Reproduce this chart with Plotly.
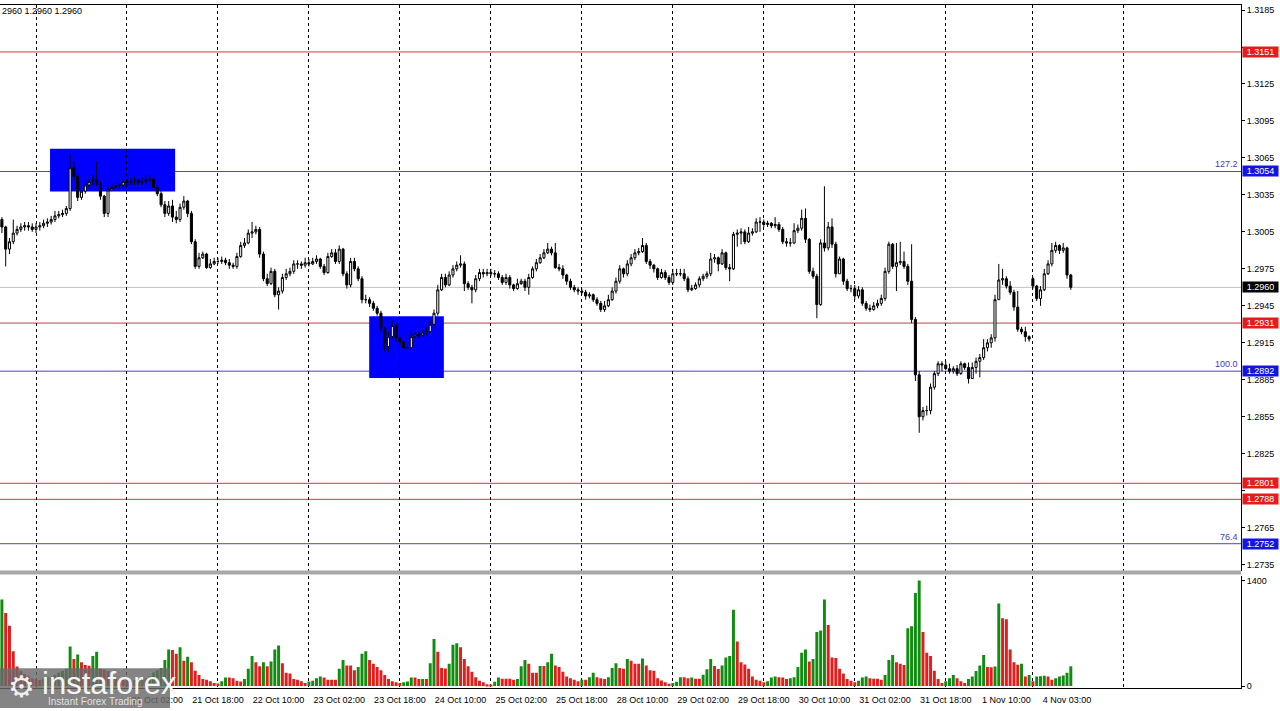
import plotly.graph_objects as go

# ---------------- data (H1 bars, first bar = 17 Oct 15:00) ----------------
opens = [
 1.3015, 1.3009, 1.2991, 1.2997, 1.3004, 1.3007, 1.3009, 1.3010, 1.3009, 1.3007,
 1.3009, 1.3010, 1.3012, 1.3013, 1.3015, 1.3018, 1.3019, 1.3020, 1.3024, 1.3057,
 1.3050, 1.3033, 1.3038, 1.3043, 1.3046, 1.3047, 1.3044, 1.3034, 1.3020, 1.3039,
 1.3041, 1.3042, 1.3043, 1.3046, 1.3045, 1.3046, 1.3047, 1.3045, 1.3046, 1.3047,
 1.3048, 1.3041, 1.3036, 1.3027, 1.3020, 1.3026, 1.3017, 1.3015, 1.3025, 1.3030,
 1.3020, 1.2997, 1.2977, 1.2984, 1.2987, 1.2976, 1.2979, 1.2981, 1.2981, 1.2982,
 1.2980, 1.2978, 1.2977, 1.2985, 1.2994, 1.2996, 1.3004, 1.3005, 1.3007, 1.2987,
 1.2967, 1.2963, 1.2973, 1.2954, 1.2957, 1.2968, 1.2971, 1.2973, 1.2979, 1.2979,
 1.2978, 1.2980, 1.2979, 1.2981, 1.2983, 1.2977, 1.2972, 1.2985, 1.2988, 1.2981,
 1.2991, 1.2971, 1.2962, 1.2981, 1.2975, 1.2967, 1.2950, 1.2950, 1.2947, 1.2943,
 1.2939, 1.2927, 1.2912, 1.2920, 1.2929, 1.2919, 1.2916, 1.2911, 1.2911, 1.2920,
 1.2922, 1.2921, 1.2923, 1.2924, 1.2930, 1.2939, 1.2958, 1.2968, 1.2962, 1.2970,
 1.2975, 1.2978, 1.2979, 1.2963, 1.2960, 1.2958, 1.2967, 1.2972, 1.2971, 1.2972,
 1.2971, 1.2971, 1.2968, 1.2964, 1.2968, 1.2962, 1.2959, 1.2963, 1.2965, 1.2960,
 1.2968, 1.2975, 1.2980, 1.2984, 1.2988, 1.2991, 1.2988, 1.2976, 1.2975, 1.2970,
 1.2965, 1.2960, 1.2958, 1.2957, 1.2956, 1.2953, 1.2954, 1.2950, 1.2947, 1.2942,
 1.2945, 1.2950, 1.2957, 1.2965, 1.2975, 1.2971, 1.2979, 1.2984, 1.2988, 1.2989,
 1.2994, 1.2981, 1.2978, 1.2975, 1.2968, 1.2972, 1.2968, 1.2964, 1.2971, 1.2971,
 1.2971, 1.2967, 1.2958, 1.2959, 1.2962, 1.2967, 1.2969, 1.2971, 1.2983, 1.2984,
 1.2979, 1.2988, 1.2976, 1.2975, 1.3003, 1.3004, 1.3005, 1.2997, 1.3004, 1.3005,
 1.3013, 1.3013, 1.3011, 1.3012, 1.3010, 1.3011, 1.3007, 1.2997, 1.2996, 1.2996,
 1.3006, 1.3008, 1.3016, 1.2999, 1.2973, 1.2969, 1.2946, 1.2996, 1.2992, 1.3009,
 1.2995, 1.2971, 1.2983, 1.2965, 1.2959, 1.2959, 1.2953, 1.2958, 1.2947, 1.2943,
 1.2942, 1.2945, 1.2947, 1.2951, 1.2973, 1.2995, 1.2977, 1.2980, 1.2981, 1.2977,
 1.2965, 1.2934, 1.2889, 1.2855, 1.2860, 1.2860, 1.2879, 1.2890, 1.2898, 1.2897,
 1.2894, 1.2892, 1.2894, 1.2890, 1.2898, 1.2895, 1.2886, 1.2895, 1.2900, 1.2903,
 1.2911, 1.2915, 1.2919, 1.2950, 1.2966, 1.2967, 1.2961, 1.2956, 1.2944, 1.2926,
 1.2924, 1.2920, 1.2967, 1.2961, 1.2951, 1.2958, 1.2971, 1.2979, 1.2990, 1.2994,
 1.2990, 1.2992, 1.2970]

highs = [
 1.3017, 1.3010, 1.3000, 1.3015, 1.3010, 1.3012, 1.3013, 1.3013, 1.3012, 1.3012,
 1.3013, 1.3015, 1.3016, 1.3018, 1.3022, 1.3022, 1.3023, 1.3026, 1.3068, 1.3062,
 1.3052, 1.3042, 1.3047, 1.3049, 1.3051, 1.3062, 1.3046, 1.3035, 1.3042, 1.3044,
 1.3045, 1.3046, 1.3049, 1.3048, 1.3049, 1.3050, 1.3048, 1.3049, 1.3051, 1.3051,
 1.3049, 1.3043, 1.3038, 1.3030, 1.3030, 1.3031, 1.3022, 1.3028, 1.3034, 1.3031,
 1.3022, 1.2999, 1.2988, 1.2989, 1.2988, 1.2983, 1.2984, 1.2984, 1.2985, 1.2984,
 1.2983, 1.2980, 1.2988, 1.2997, 1.3000, 1.3007, 1.3013, 1.3010, 1.3009, 1.2989,
 1.2971, 1.2976, 1.2975, 1.2960, 1.2971, 1.2975, 1.2976, 1.2982, 1.2982, 1.2981,
 1.2984, 1.2983, 1.2984, 1.2986, 1.2984, 1.2979, 1.2988, 1.2991, 1.2991, 1.2994,
 1.2992, 1.2973, 1.2984, 1.2984, 1.2977, 1.2969, 1.2954, 1.2952, 1.2949, 1.2945,
 1.2941, 1.2928, 1.2924, 1.2933, 1.2931, 1.2920, 1.2917, 1.2914, 1.2924, 1.2924,
 1.2924, 1.2925, 1.2928, 1.2933, 1.2942, 1.2962, 1.2971, 1.2971, 1.2973, 1.2978,
 1.2981, 1.2986, 1.2981, 1.2965, 1.2962, 1.2970, 1.2975, 1.2975, 1.2975, 1.2975,
 1.2974, 1.2973, 1.2970, 1.2971, 1.2970, 1.2963, 1.2967, 1.2967, 1.2967, 1.2971,
 1.2977, 1.2983, 1.2987, 1.2991, 1.2996, 1.2993, 1.2996, 1.2979, 1.2978, 1.2971,
 1.2967, 1.2962, 1.2960, 1.2959, 1.2958, 1.2956, 1.2955, 1.2952, 1.2949, 1.2949,
 1.2954, 1.2960, 1.2968, 1.2978, 1.2976, 1.2982, 1.2987, 1.2991, 1.2992, 1.3000,
 1.2996, 1.2983, 1.2979, 1.2976, 1.2975, 1.2974, 1.2970, 1.2975, 1.2975, 1.2975,
 1.2975, 1.2969, 1.2962, 1.2964, 1.2969, 1.2971, 1.2973, 1.2988, 1.2987, 1.2985,
 1.2991, 1.2989, 1.2979, 1.3005, 1.3007, 1.3008, 1.3007, 1.3009, 1.3008, 1.3016,
 1.3017, 1.3015, 1.3014, 1.3013, 1.3017, 1.3013, 1.3009, 1.3000, 1.3000, 1.3012,
 1.3011, 1.3023, 1.3024, 1.3000, 1.2976, 1.2971, 1.2999, 1.3042, 1.3013, 1.3016,
 1.2997, 1.2985, 1.2984, 1.2967, 1.2962, 1.2962, 1.2961, 1.2960, 1.2949, 1.2946,
 1.2948, 1.2950, 1.2954, 1.2976, 1.2997, 1.2996, 1.2996, 1.2997, 1.2989, 1.2979,
 1.2995, 1.2936, 1.2892, 1.2863, 1.2864, 1.2882, 1.2892, 1.2900, 1.2900, 1.2900,
 1.2898, 1.2896, 1.2897, 1.2900, 1.2899, 1.2899, 1.2899, 1.2903, 1.2906, 1.2918,
 1.2918, 1.2922, 1.2954, 1.2979, 1.2975, 1.2969, 1.2965, 1.2958, 1.2957, 1.2928,
 1.2928, 1.2921, 1.2968, 1.2962, 1.2961, 1.2975, 1.2982, 1.2996, 1.2997, 1.2995,
 1.2996, 1.2993, 1.2971]

lows = [
 1.3004, 1.2977, 1.2987, 1.2995, 1.3002, 1.3005, 1.3006, 1.3006, 1.3005, 1.3004,
 1.3006, 1.3008, 1.3009, 1.3011, 1.3013, 1.3016, 1.3017, 1.3018, 1.3022, 1.3047,
 1.3030, 1.3031, 1.3036, 1.3041, 1.3043, 1.3042, 1.3031, 1.3017, 1.3017, 1.3038,
 1.3039, 1.3039, 1.3041, 1.3043, 1.3043, 1.3043, 1.3043, 1.3043, 1.3044, 1.3045,
 1.3039, 1.3034, 1.3025, 1.3017, 1.3018, 1.3013, 1.3012, 1.3013, 1.3023, 1.3017,
 1.2995, 1.2975, 1.2975, 1.2983, 1.2975, 1.2975, 1.2978, 1.2979, 1.2979, 1.2978,
 1.2975, 1.2975, 1.2975, 1.2984, 1.2992, 1.2995, 1.3000, 1.3003, 1.2984, 1.2965,
 1.2961, 1.2962, 1.2952, 1.2942, 1.2955, 1.2966, 1.2969, 1.2971, 1.2975, 1.2975,
 1.2976, 1.2977, 1.2978, 1.2979, 1.2975, 1.2970, 1.2971, 1.2984, 1.2979, 1.2979,
 1.2969, 1.2959, 1.2960, 1.2973, 1.2965, 1.2947, 1.2947, 1.2944, 1.2941, 1.2937,
 1.2924, 1.2908, 1.2907, 1.2918, 1.2916, 1.2913, 1.2908, 1.2907, 1.2909, 1.2919,
 1.2919, 1.2920, 1.2921, 1.2923, 1.2928, 1.2937, 1.2957, 1.2960, 1.2961, 1.2968,
 1.2973, 1.2976, 1.2957, 1.2958, 1.2947, 1.2956, 1.2965, 1.2968, 1.2969, 1.2969,
 1.2968, 1.2966, 1.2962, 1.2962, 1.2959, 1.2957, 1.2958, 1.2962, 1.2957, 1.2954,
 1.2967, 1.2973, 1.2979, 1.2983, 1.2987, 1.2986, 1.2975, 1.2973, 1.2967, 1.2962,
 1.2958, 1.2956, 1.2954, 1.2954, 1.2950, 1.2951, 1.2948, 1.2945, 1.2940, 1.2940,
 1.2944, 1.2949, 1.2955, 1.2963, 1.2968, 1.2969, 1.2977, 1.2982, 1.2986, 1.2988,
 1.2979, 1.2975, 1.2972, 1.2966, 1.2967, 1.2966, 1.2962, 1.2962, 1.2969, 1.2969,
 1.2965, 1.2956, 1.2957, 1.2958, 1.2960, 1.2965, 1.2967, 1.2969, 1.2980, 1.2973,
 1.2978, 1.2974, 1.2965, 1.2974, 1.2993, 1.2995, 1.2995, 1.2996, 1.3002, 1.3004,
 1.3005, 1.3009, 1.3009, 1.3008, 1.3008, 1.3005, 1.2995, 1.2993, 1.2993, 1.2995,
 1.3004, 1.3006, 1.2996, 1.2971, 1.2967, 1.2935, 1.2945, 1.2989, 1.2990, 1.2992,
 1.2968, 1.2971, 1.2962, 1.2957, 1.2956, 1.2950, 1.2951, 1.2945, 1.2941, 1.2940,
 1.2941, 1.2943, 1.2945, 1.2949, 1.2971, 1.2975, 1.2957, 1.2978, 1.2975, 1.2962,
 1.2931, 1.2884, 1.2842, 1.2852, 1.2856, 1.2857, 1.2877, 1.2888, 1.2892, 1.2893,
 1.2890, 1.2890, 1.2888, 1.2889, 1.2893, 1.2882, 1.2886, 1.2890, 1.2887, 1.2901,
 1.2908, 1.2911, 1.2916, 1.2950, 1.2962, 1.2959, 1.2954, 1.2941, 1.2924, 1.2922,
 1.2916, 1.2916, 1.2959, 1.2949, 1.2945, 1.2957, 1.2970, 1.2977, 1.2988, 1.2987,
 1.2988, 1.2967, 1.2958]

closes = [
 1.3009, 1.2991, 1.2997, 1.3004, 1.3007, 1.3009, 1.3010, 1.3009, 1.3007, 1.3009,
 1.3010, 1.3012, 1.3013, 1.3015, 1.3018, 1.3019, 1.3020, 1.3024, 1.3057, 1.3050,
 1.3033, 1.3038, 1.3043, 1.3046, 1.3047, 1.3044, 1.3034, 1.3020, 1.3039, 1.3041,
 1.3042, 1.3043, 1.3046, 1.3045, 1.3046, 1.3047, 1.3045, 1.3046, 1.3047, 1.3048,
 1.3041, 1.3036, 1.3027, 1.3020, 1.3026, 1.3017, 1.3015, 1.3025, 1.3030, 1.3020,
 1.2997, 1.2977, 1.2984, 1.2987, 1.2976, 1.2979, 1.2981, 1.2981, 1.2982, 1.2980,
 1.2978, 1.2977, 1.2985, 1.2994, 1.2996, 1.3004, 1.3005, 1.3007, 1.2987, 1.2967,
 1.2963, 1.2973, 1.2954, 1.2957, 1.2968, 1.2971, 1.2973, 1.2979, 1.2979, 1.2978,
 1.2980, 1.2979, 1.2981, 1.2983, 1.2977, 1.2972, 1.2985, 1.2988, 1.2981, 1.2991,
 1.2971, 1.2962, 1.2981, 1.2975, 1.2967, 1.2950, 1.2950, 1.2947, 1.2943, 1.2939,
 1.2927, 1.2912, 1.2920, 1.2929, 1.2919, 1.2916, 1.2911, 1.2911, 1.2920, 1.2922,
 1.2921, 1.2923, 1.2924, 1.2930, 1.2939, 1.2958, 1.2968, 1.2962, 1.2970, 1.2975,
 1.2978, 1.2979, 1.2963, 1.2960, 1.2958, 1.2967, 1.2972, 1.2971, 1.2972, 1.2971,
 1.2971, 1.2968, 1.2964, 1.2968, 1.2962, 1.2959, 1.2963, 1.2965, 1.2960, 1.2968,
 1.2975, 1.2980, 1.2984, 1.2988, 1.2991, 1.2988, 1.2976, 1.2975, 1.2970, 1.2965,
 1.2960, 1.2958, 1.2957, 1.2956, 1.2953, 1.2954, 1.2950, 1.2947, 1.2942, 1.2945,
 1.2950, 1.2957, 1.2965, 1.2975, 1.2971, 1.2979, 1.2984, 1.2988, 1.2989, 1.2994,
 1.2981, 1.2978, 1.2975, 1.2968, 1.2972, 1.2968, 1.2964, 1.2971, 1.2971, 1.2971,
 1.2967, 1.2958, 1.2959, 1.2962, 1.2967, 1.2969, 1.2971, 1.2983, 1.2984, 1.2979,
 1.2988, 1.2976, 1.2975, 1.3003, 1.3004, 1.3005, 1.2997, 1.3004, 1.3005, 1.3013,
 1.3013, 1.3011, 1.3012, 1.3010, 1.3011, 1.3007, 1.2997, 1.2996, 1.2996, 1.3006,
 1.3008, 1.3016, 1.2999, 1.2973, 1.2969, 1.2946, 1.2996, 1.2992, 1.3009, 1.2995,
 1.2971, 1.2983, 1.2965, 1.2959, 1.2959, 1.2953, 1.2958, 1.2947, 1.2943, 1.2942,
 1.2945, 1.2947, 1.2951, 1.2973, 1.2995, 1.2977, 1.2980, 1.2981, 1.2977, 1.2965,
 1.2934, 1.2889, 1.2855, 1.2860, 1.2860, 1.2879, 1.2890, 1.2898, 1.2897, 1.2894,
 1.2892, 1.2894, 1.2890, 1.2898, 1.2895, 1.2886, 1.2895, 1.2900, 1.2903, 1.2911,
 1.2915, 1.2919, 1.2950, 1.2966, 1.2967, 1.2961, 1.2956, 1.2944, 1.2926, 1.2924,
 1.2920, 1.2918, 1.2961, 1.2951, 1.2958, 1.2971, 1.2979, 1.2990, 1.2994, 1.2990,
 1.2992, 1.2970, 1.2960]

volumes = [
 1148, 970, 800, 464, 260, 200, 160, 130, 100, 90,
 80, 100, 120, 110, 150, 180, 200, 230, 527, 360,
 420, 316, 280, 270, 400, 455, 230, 220, 200, 150,
 120, 90, 80, 70, 60, 80, 90, 110, 100, 130,
 180, 210, 240, 346, 485, 480, 430, 515, 338, 388,
 316, 203, 148, 93, 84, 63, 40, 34, 63, 114,
 114, 105, 72, 60, 93, 232, 400, 316, 262, 316,
 262, 325, 485, 540, 304, 177, 169, 93, 85, 63,
 42, 60, 70, 105, 127, 114, 84, 84, 84, 232,
 346, 274, 274, 211, 253, 430, 464, 346, 295, 253,
 211, 148, 93, 63, 50, 40, 50, 60, 114, 114,
 93, 95, 93, 304, 625, 456, 240, 235, 295, 549,
 570, 515, 359, 262, 190, 118, 72, 50, 25, 21,
 59, 114, 97, 97, 97, 84, 93, 262, 346, 295,
 177, 177, 266, 266, 316, 430, 274, 253, 190, 127,
 105, 84, 63, 84, 84, 118, 177, 118, 105, 93,
 118, 240, 304, 240, 232, 359, 338, 295, 295, 367,
 274, 211, 203, 106, 76, 50, 30, 40, 59, 118,
 118, 105, 114, 97, 97, 150, 224, 359, 266, 228,
 274, 380, 400, 1013, 591, 316, 287, 232, 127, 84,
 72, 50, 63, 114, 127, 118, 114, 93, 105, 118,
 253, 443, 485, 325, 359, 717, 738, 1148, 810, 380,
 372, 232, 169, 93, 70, 50, 72, 114, 127, 105,
 97, 97, 84, 148, 346, 414, 316, 295, 280, 768,
 793, 1236, 1400, 717, 443, 400, 203, 93, 42, 63,
 105, 148, 105, 63, 42, 93, 127, 200, 274, 414,
 253, 250, 260, 1097, 899, 886, 485, 316, 283, 295,
 127, 148, 63, 127, 130, 139, 127, 84, 105, 127,
 140, 177, 262]

# bar numbers of the day separators (00:00) and of the time labels
day_start_bars = [9, 33, 57, 81, 105, 129, 153, 177, 201, 225, 249, 272, 296]
label_bars = [35, 51, 67, 83, 99, 115, 131, 147, 163, 179, 195, 211,
              227, 243, 259, 275]
label_texts = ["21 Oct 02:00", "21 Oct 18:00",
               "22 Oct 10:00", "23 Oct 02:00", "23 Oct 18:00", "24 Oct 10:00",
               "25 Oct 02:00", "25 Oct 18:00", "28 Oct 10:00", "29 Oct 02:00",
               "29 Oct 18:00", "30 Oct 10:00", "31 Oct 02:00", "31 Oct 18:00",
               "1 Nov 10:00", "4 Nov 03:00"]
price_ticks = [1.2735, 1.2765, 1.2795, 1.2825, 1.2855, 1.2885, 1.2915, 1.2945,
               1.2975, 1.3005, 1.3035, 1.3065, 1.3095, 1.3125, 1.3155, 1.3185]
covered_ticks = [1.2795, 1.3155]   # hidden behind the level price boxes
red_levels = [1.3151, 1.2931, 1.2801, 1.2788]
blue_levels = [1.3054, 1.2892, 1.2752]
fib_labels = ["127.2", "100.0", "76.4"]
current_price = 1.2960
# highlighted zones: (first bar, last bar, low price, high price)
zones = [(12.7, 45.7, 1.30377, 1.30725), (96.9, 116.6, 1.28864, 1.29366)]

# ---------------- figure ----------------
W, H = 1280, 711
DY = 3  # vertical pixel offset of the whole layout
FONT = "Liberation Sans"
GREEN, RED = "#108c10", "#e41c1c"


def fx(px):
    return px / W


def fy(py):
    return 1 - (py + DY) / H


bars = list(range(len(closes)))
vol_colors = [GREEN if (i == 0 or volumes[i] > volumes[i - 1]) else RED
              for i in range(len(volumes))]

fig = go.Figure()
fig.add_trace(go.Candlestick(
    x=bars, open=opens, high=highs, low=lows, close=closes,
    increasing=dict(line=dict(color="black", width=1), fillcolor="white"),
    decreasing=dict(line=dict(color="black", width=1), fillcolor="black"),
    whiskerwidth=0, xaxis="x", yaxis="y", showlegend=False, hoverinfo="skip"))
fig.add_trace(go.Bar(
    x=bars, y=volumes, width=0.78, marker=dict(color=vol_colors, line=dict(width=0)),
    xaxis="x2", yaxis="y2", showlegend=False, hoverinfo="skip"))

XR = [-0.5, 326.9]
XDOM = [0, fx(1241)]
grid = dict(showgrid=True, gridcolor="black", gridwidth=1, griddash="3px,3px")

shapes = []
for lv in red_levels:
    shapes.append(dict(type="line", xref="x domain", yref="y", x0=0, x1=1, y0=lv, y1=lv,
                       line=dict(color="#c83c3c", width=1), layer="below"))
for lv in blue_levels:
    shapes.append(dict(type="line", xref="x domain", yref="y", x0=0, x1=1, y0=lv, y1=lv,
                       line=dict(color="#4a4aa8", width=1), layer="below"))
shapes.append(dict(type="line", xref="x domain", yref="y", x0=0, x1=1,
                   y0=current_price, y1=current_price,
                   line=dict(color="#c0c0c0", width=1), layer="below"))
for (b0, b1, p0, p1) in zones:
    shapes.append(dict(type="rect", xref="x", yref="y", x0=b0, x1=b1, y0=p0, y1=p1,
                       fillcolor="#0000ff", line=dict(width=0), layer="below"))
# panel separator
shapes.append(dict(type="rect", xref="paper", yref="paper", x0=0, x1=fx(1241),
                   y0=fy(574), y1=fy(570), fillcolor="#a8a8a8", line=dict(width=0)))
# watermark box
shapes.append(dict(type="rect", xref="paper", yref="paper", x0=0, x1=fx(170),
                   y0=0, y1=fy(668), fillcolor="rgba(105,105,105,0.82)",
                   line=dict(width=0), layer="above"))

ann = []


def price_box(val, color):
    ann.append(dict(xref="paper", yref="y", x=fx(1242), y=val, xanchor="left",
                    yanchor="middle", text=f"{val:.4f}", showarrow=False,
                    bgcolor=color, width=35, height=10, borderpad=0,
                    font=dict(family=FONT, size=9, color="white")))


for lv in red_levels:
    price_box(lv, "#e41c1c")
for lv in blue_levels:
    price_box(lv, "#1414e0")
price_box(current_price, "#000000")
for lv, t in zip(blue_levels, fib_labels):
    ann.append(dict(xref="paper", yref="y", x=fx(1240), y=lv, xanchor="right",
                    yanchor="bottom", text=t, showarrow=False,
                    font=dict(family=FONT, size=9, color="#3c3cb4")))
ann.append(dict(xref="paper", yref="paper", x=0, y=fy(8), xanchor="left",
                yanchor="middle", text="2960 1.2960 1.2960", showarrow=False,
                font=dict(family=FONT, size=9, color="black")))
ann.append(dict(xref="paper", yref="paper", x=fx(6), y=fy(686), xanchor="left",
                yanchor="middle", text="\u2699", showarrow=False,
                font=dict(family="DejaVu Sans", size=30, color="#f0f0f0")))
ann.append(dict(xref="paper", yref="paper", x=fx(40), y=fy(683), xanchor="left",
                yanchor="middle", text="instaforex", showarrow=False,
                font=dict(family=FONT, size=31, color="#f4f4f4")))
ann.append(dict(xref="paper", yref="paper", x=fx(46), y=fy(701), xanchor="left",
                yanchor="middle", text="Instant Forex Trading", showarrow=False,
                font=dict(family=FONT, size=10, color="#e0e0e0")))

fig.update_layout(
    width=W, height=H, autosize=False,
    margin=dict(l=0, r=0, t=0, b=0, pad=0),
    paper_bgcolor="white", plot_bgcolor="white",
    font=dict(family=FONT, size=9, color="black"),
    boxgap=0.22, hovermode=False, showlegend=False,
    xaxis=dict(domain=XDOM, range=XR, anchor="y", side="top",
               tickmode="array", tickvals=day_start_bars, showticklabels=False,
               ticks="", showline=True, linecolor="black", linewidth=1,
               zeroline=False, rangeslider=dict(visible=False), **grid),
    yaxis=dict(domain=[fy(570), fy(2)], range=[1.27302, 1.31891], anchor="x",
               side="right", tickmode="array", tickvals=price_ticks,
               ticktext=["" if p in covered_ticks else f"{p:.4f}" for p in price_ticks],
               ticks="outside", ticklen=3, tickcolor="black",
               showline=True, linecolor="black", linewidth=1,
               showgrid=False, zeroline=False,
               tickfont=dict(family=FONT, size=9, color="black")),
    xaxis2=dict(domain=XDOM, range=XR, anchor="y2", matches="x",
                tickmode="array", tickvals=[b + 6 for b in label_bars],
                ticktext=label_texts, ticks="", showline=True,
                linecolor="black", linewidth=1, showgrid=False, zeroline=False,
                ticklabelstandoff=3,
                tickfont=dict(family=FONT, size=9, color="black"),
                minor=dict(tickmode="array", tickvals=day_start_bars, ticks="",
                           **grid)),
    yaxis2=dict(domain=[fy(688), fy(575)], range=[-26, 1466], anchor="x2",
                side="right", tickmode="array", tickvals=[0, 1400],
                ticktext=["0", "1400"], ticks="outside", ticklen=3,
                tickcolor="black", showline=True, linecolor="black",
                showgrid=False, zeroline=False,
                tickfont=dict(family=FONT, size=9, color="black")),
    shapes=shapes, annotations=ann,
)

fig.write_html(
    "out.html",
    config={"displayModeBar": False},
    post_script="document.body.style.margin='0px';document.body.style.padding='0px';"
                "document.body.style.overflow='hidden';",
)
